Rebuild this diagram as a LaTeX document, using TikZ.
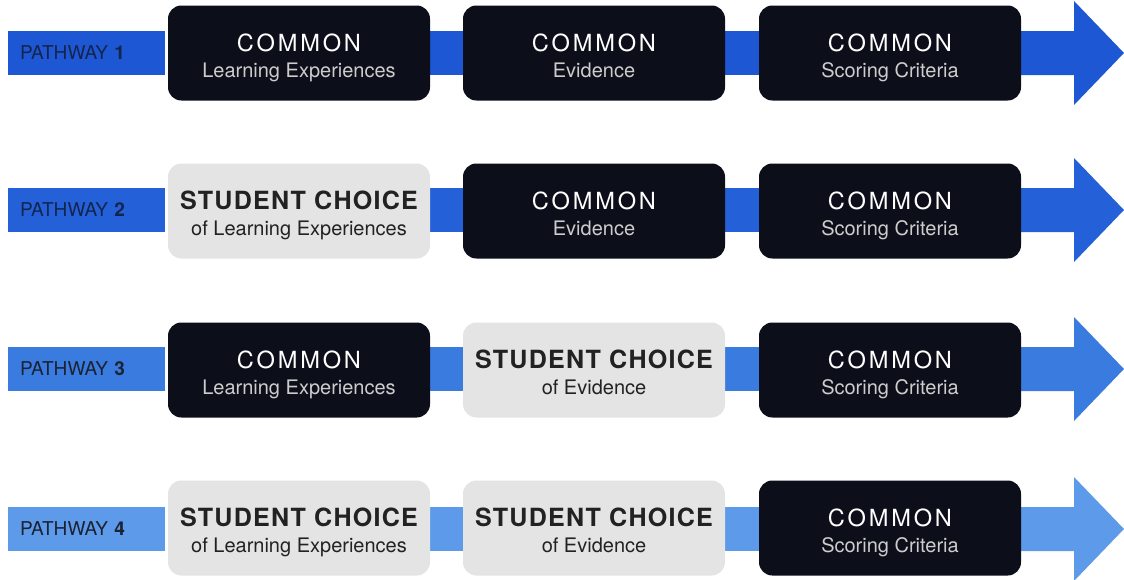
\documentclass[tikz,border=0pt]{standalone}
\usepackage{fontspec}
\setmainfont{TeX Gyre Heros}
\newfontfamily\cmnfont[LetterSpace=12]{TeX Gyre Heros}
\newfontfamily\chcfont[LetterSpace=5]{TeX Gyre Heros}
\usetikzlibrary{calc,backgrounds}
\definecolor{rowA}{HTML}{1D57D3}
\definecolor{rowB}{HTML}{2461D9}
\definecolor{rowC}{HTML}{3A7BE0}
\definecolor{rowD}{HTML}{5D9AE9}
\definecolor{boxdark}{HTML}{0C0F1A}
\definecolor{boxlight}{HTML}{E4E4E4}
\definecolor{subgray}{HTML}{CDCDCD}
\definecolor{labA}{HTML}{14244F}
\definecolor{labB}{HTML}{1C2233}
\definecolor{choiceink}{HTML}{222222}
\newcommand\cmnbox[1]{\rule{0pt}{20.25pt}{\fontsize{17.7}{19.5}\selectfont\cmnfont COMMON}\\{\color{subgray}#1}\rule[-3.5pt]{0pt}{3.5pt}}
\newcommand\chcbox[1]{\rule{0pt}{20.25pt}{\fontsize{18.8}{19.5}\selectfont\chcfont\bfseries STUDENT CHOICE}\\#1\rule[-3.5pt]{0pt}{3.5pt}}
\tikzset{
  stage/.style={minimum width=196.5pt, minimum height=71.25pt, rounded corners=10pt,
    align=center, inner sep=0pt, font=\fontsize{15}{19.5}\selectfont},
  dark/.style={stage, fill=boxdark, text=white},
  light/.style={stage, fill=boxlight, text=choiceink},
  pathlabel/.style={minimum height=33pt, text width=99.75pt, inner xsep=9pt, inner ysep=0pt,
    align=left, font=\fontsize{14.3}{16}\selectfont},
}
\begin{document}
\begin{tikzpicture}[x=0.75pt,y=-0.75pt]
\useasboundingbox (0,0) rectangle (1124,579);
% ---------- Row 1
\node[pathlabel, fill=rowA, text=labA] (p1) at (86.5,53) {PATHWAY \textbf{1}};
\node[dark] (b11) at (299,53) {\cmnbox{Learning Experiences}};
\node[dark] (b12) at (594,53) {\cmnbox{Evidence}};
\node[dark] (b13) at (890,53) {\cmnbox{Scoring Criteria}};
\coordinate (t1) at (1124,53);
% ---------- Row 2
\node[pathlabel, fill=rowB, text=labA] (p2) at (86.5,210) {PATHWAY \textbf{2}};
\node[light] (b21) at (299,211) {\chcbox{of Learning Experiences}};
\node[dark] (b22) at (594,211) {\cmnbox{Evidence}};
\node[dark] (b23) at (890,211) {\cmnbox{Scoring Criteria}};
\coordinate (t2) at (1124,210);
% ---------- Row 3
\node[pathlabel, fill=rowC, text=labB] (p3) at (86.5,369) {PATHWAY \textbf{3}};
\node[dark] (b31) at (299,370) {\cmnbox{Learning Experiences}};
\node[light] (b32) at (594,370) {\chcbox{of Evidence}};
\node[dark] (b33) at (890,370) {\cmnbox{Scoring Criteria}};
\coordinate (t3) at (1124,369);
% ---------- Row 4
\node[pathlabel, fill=rowD, text=labB] (p4) at (86.5,529) {PATHWAY \textbf{4}};
\node[light] (b41) at (299,528) {\chcbox{of Learning Experiences}};
\node[light] (b42) at (594,528) {\chcbox{of Evidence}};
\node[dark] (b43) at (890,528) {\cmnbox{Scoring Criteria}};
\coordinate (t4) at (1124,529);
% ---------- connectors and arrows
\begin{scope}[on background layer]
\foreach \r/\c in {1/rowA,2/rowB,3/rowC,4/rowD}{
  \coordinate (a\r) at (b\r1.east |- t\r);
  \coordinate (m\r) at (b\r2.west |- t\r);
  \coordinate (n\r) at (b\r2.east |- t\r);
  \coordinate (q\r) at (b\r3.west |- t\r);
  \coordinate (s\r) at (b\r3.east |- t\r);
  \fill[\c] ($(a\r)+(-4,-22)$) rectangle ($(m\r)+(4,22)$);
  \fill[\c] ($(n\r)+(-4,-22)$) rectangle ($(q\r)+(4,22)$);
  \fill[\c] ($(s\r)+(-4,-22)$) -- ($(t\r)+(-50,-22)$)
     -- ($(t\r)+(-50,-52)$) -- (t\r) -- ($(t\r)+(-50,52)$)
     -- ($(t\r)+(-50,22)$) -- ($(s\r)+(-4,22)$) -- cycle;
}
\end{scope}
\end{tikzpicture}
\end{document}
